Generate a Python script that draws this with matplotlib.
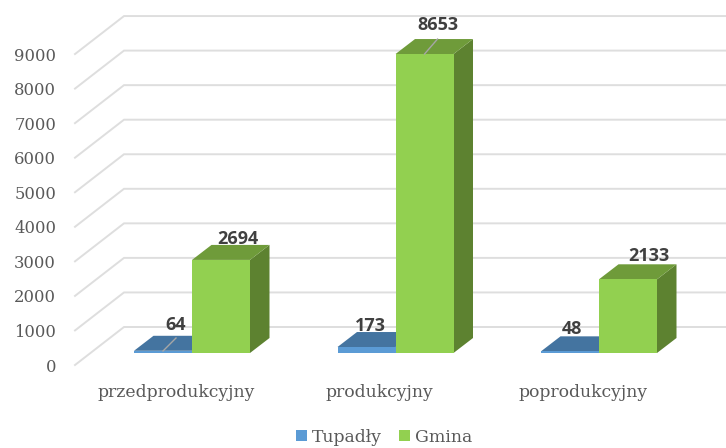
import matplotlib
matplotlib.use("Agg")
import matplotlib.pyplot as plt
from matplotlib.patches import Patch, Polygon

categories = ["przedprodukcyjny", "produkcyjny", "poprodukcyjny"]
tupadly = [64, 173, 48]
gmina = [2694, 8653, 2133]
yticks = [0, 1000, 2000, 3000, 4000, 5000, 6000, 7000, 8000, 9000]

W, H = 726, 448
PX_X = 203.5          # pixels per category
PX_Y = 34.55 / 1000   # pixels per unit of value
BAR_W = 58 / PX_X
# 3d offsets, in data units
BAR_DX, BAR_DY = 19.5 / PX_X, 15 / PX_Y
WALL_DX, WALL_DY = 49 / PX_X, 38 / PX_Y
WALL_X0 = -117 / PX_X
WALL_Y0 = -12 / PX_Y

# label offsets from the bar's top-left corner, pixels
TUP_OFF = [(-16, 26), (-25, 21), (-27, 22)]
GMI_OFF = [(46, 21), (42, 29), (50, 23)]

SERIF = "DejaVu Serif"
LABEL_FONT = "Open Sans"
TEXT_GREY = "#595959"

fig = plt.figure(figsize=(W / 100, H / 100), dpi=100)
ax = fig.add_axes([0, 0, 1, 1])
ax.set_xlim(-192 / PX_X, (W - 192) / PX_X)
ax.set_ylim(-(H - 353) / PX_Y, 353 / PX_Y)
ax.axis("off")

# back wall and side wall gridlines
for v in yticks:
    y = WALL_Y0 + v
    ax.plot([WALL_X0, WALL_X0 + WALL_DX, ax.get_xlim()[1]],
            [y, y + WALL_DY, y + WALL_DY],
            color="#DEDEDE", lw=1.4, zorder=1, solid_joinstyle="miter")
    ax.text(WALL_X0 - 19 / PX_X, y - 2 / PX_Y, str(v), ha="right", va="center",
            family=SERIF, fontsize=11.8, color=TEXT_GREY)


def bar3d(x, w, v, front, top, side):
    ax.add_patch(Polygon([(x + w, 0), (x + w + BAR_DX, BAR_DY),
                          (x + w + BAR_DX, v + BAR_DY), (x + w, v)],
                         fc=side, ec="none", zorder=3))
    ax.add_patch(Polygon([(x, v), (x + w, v), (x + w + BAR_DX, v + BAR_DY),
                          (x + BAR_DX, v + BAR_DY)], fc=top, ec="none", zorder=3))
    ax.add_patch(Polygon([(x, 0), (x + w, 0), (x + w, v), (x, v)],
                         fc=front, ec="none", zorder=4))


for i, cat in enumerate(categories):
    bar3d(i - BAR_W, BAR_W, tupadly[i], "#5B9BD5", "#4474A0", "#3A6589")
    bar3d(i, BAR_W, gmina[i], "#92D050", "#6F9B3A", "#5D8230")
    ax.text(i - 16 / PX_X, -(392 - 353) / PX_Y, cat, ha="center", va="center",
            family=SERIF, fontsize=12.4, color=TEXT_GREY)

# data labels
for i, v in enumerate(tupadly):
    dx, dy = TUP_OFF[i]
    ax.text(i + dx / PX_X, v + dy / PX_Y, str(v), ha="center", va="center",
            family=LABEL_FONT, weight="bold", fontsize=13, color="#404040", zorder=6)
ax.plot([-29 / PX_X, -16 / PX_X], [2 / PX_Y, 15 / PX_Y], color="#A6A6A6", lw=1, zorder=5)

for i, v in enumerate(gmina):
    dx, dy = GMI_OFF[i]
    ax.text(i + dx / PX_X, v + dy / PX_Y, str(v), ha="center", va="center",
            family=LABEL_FONT, weight="bold", fontsize=13, color="#404040", zorder=6)
ax.plot([1 + 29 / PX_X, 1 + 42 / PX_X], [8653, 8653 + 15 / PX_Y], color="#A6A6A6", lw=1, zorder=5)

handles = [Patch(fc="#5B9BD5", label="Tupadły"), Patch(fc="#92D050", label="Gmina")]
prop = {"family": SERIF, "size": 12.4}
leg = ax.legend(handles=handles, ncol=2, frameon=False, prop=prop,
                loc="center", bbox_to_anchor=(384 / W, 1 - 437 / H),
                handlelength=0.65, handleheight=0.65, handletextpad=0.3,
                columnspacing=0.95, labelcolor=TEXT_GREY, borderpad=0)

fig.savefig("out.png", dpi=100)
